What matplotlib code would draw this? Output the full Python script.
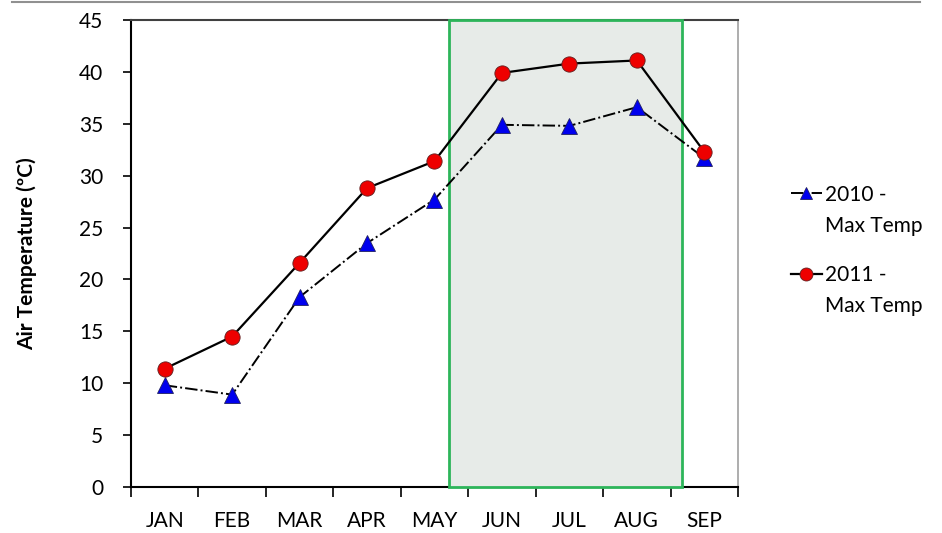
import matplotlib
import matplotlib.pyplot as plt
from matplotlib.lines import Line2D
from matplotlib.patches import Rectangle

matplotlib.use("Agg")

months = ["JAN", "FEB", "MAR", "APR", "MAY", "JUN", "JUL", "AUG", "SEP"]
max_2010 = [9.8, 8.9, 18.3, 23.5, 27.7, 34.9, 34.8, 36.6, 31.7]
max_2011 = [11.4, 14.5, 21.6, 28.8, 31.4, 39.9, 40.8, 41.1, 32.3]
series_labels = ["2010 -", "2011 -"]
series_sublabel = "Max Temp"

plt.rcParams["font.family"] = ["Lato", "DejaVu Sans"]

W, H = 942, 533
fig = plt.figure(figsize=(W / 100, H / 100), dpi=100)
ax = fig.add_axes([131 / W, 46 / H, 607 / W, 467 / H])

x = list(range(len(months)))

# highlighted summer block
ax.add_patch(Rectangle((4.22, 0), 3.45, 45, facecolor="#e7ebe8",
                       edgecolor="#2db55a", linewidth=2, zorder=2.6, clip_on=False))

ax.plot(x, max_2010, color="black", linestyle="-.", linewidth=1.4,
        marker="^", markersize=11, markerfacecolor="#0000ee",
        markeredgecolor="#202060", markeredgewidth=0.6, zorder=3,
        label=series_labels[0])
ax.plot(x, max_2011, color="black", linestyle="-", linewidth=1.6,
        marker="o", markersize=11, markerfacecolor="#ee0000",
        markeredgecolor="#602020", markeredgewidth=0.6, zorder=4,
        label=series_labels[1])

ax.set_xlim(-0.5, len(months) - 0.5)
ax.set_ylim(0, 45)
ax.set_yticks(range(0, 46, 5))
ax.set_xticks(x)
ax.set_xticklabels(months)
ax.set_xticks([i - 0.5 for i in range(len(months) + 1)], minor=True)
ax.tick_params(axis="x", which="major", length=0, pad=17, labelsize=15)
ax.tick_params(axis="x", which="minor", length=7, width=1.2, direction="out")
ax.tick_params(axis="y", length=6, width=1.2, direction="out", labelsize=15, pad=14)

for side in ["left", "bottom"]:
    ax.spines[side].set_linewidth(1.5)
    ax.spines[side].set_color("black")
ax.spines["top"].set_color("#404040")
ax.spines["top"].set_linewidth(1.5)
ax.spines["right"].set_color("#a0a0a0")
ax.spines["right"].set_linewidth(1.2)

ax.set_ylabel("Air Temperature (ºC)", fontsize=15, fontweight="bold", labelpad=30)

leg = fig.legend(loc="upper left", bbox_to_anchor=(772 / W, 1 - 166 / H),
                 frameon=False, handlelength=1.5, handletextpad=0.15,
                 labelspacing=2.9, markerscale=0.85, prop={"size": 15})

# second line of each legend label, Excel-style wrapped under the first
fig.canvas.draw()
for txt in leg.get_texts():
    bb = txt.get_window_extent()
    fig.text(bb.x0 / W, ((bb.y0 + bb.y1) / 2 - 31) / H, series_sublabel,
             fontsize=15, va="center", ha="left")

fig.add_artist(Line2D([12 / W, 920 / W], [531 / H, 531 / H],
                      color="#909090", linewidth=1.5))

fig.savefig("out.png", dpi=100)
